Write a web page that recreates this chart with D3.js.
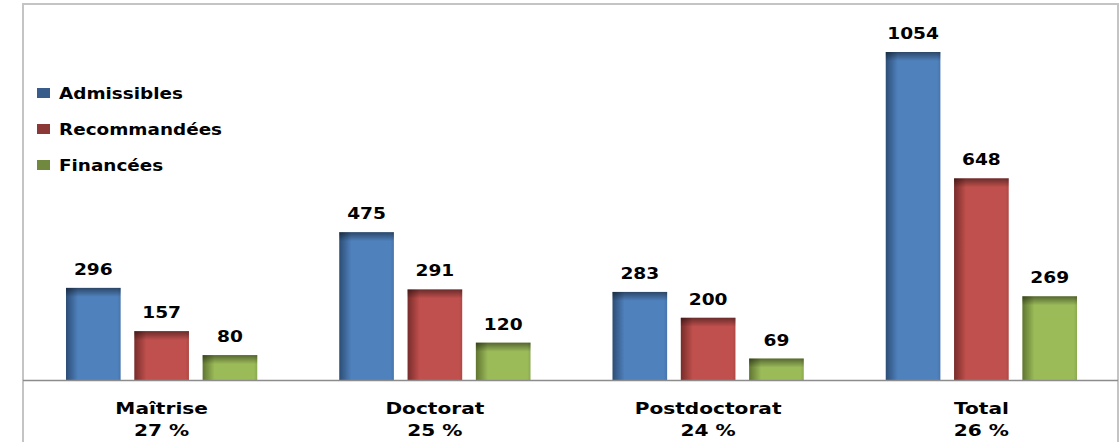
<!DOCTYPE html>
<html>
<head>
<meta charset="utf-8">
<script src="https://cdn.jsdelivr.net/npm/d3@7"></script>
<style>
  body { margin: 0; background: #fff; }
  text { font-family: "DejaVu Sans", sans-serif; font-weight: bold; fill: #000; }
</style>
</head>
<body>
<div id="chart"></div>
<script>
var svgWidth = 1120;
var svgHeight = 442;

// data
var categories = ["Maîtrise", "Doctorat", "Postdoctorat", "Total"];
var percents = ["27 %", "25 %", "24 %", "26 %"];
var seriesNames = ["Admissibles", "Recommandées", "Financées"];
var admissibles = [296, 475, 283, 1054];
var recommandees = [157, 291, 200, 648];
var financees = [80, 120, 69, 269];

var seriesValues = [admissibles, recommandees, financees];
var colors = ["#4f81bd", "#c0504d", "#9bbb59"];
var darkColors = ["#2c4d75", "#772c2a", "#5f7530"];
var legendColors = ["#385d8a", "#8c3836", "#71893f"];

var plot = { left: 25, right: 1118, base: 380 };

var svg = d3.select("#chart")
  .append("svg")
  .attr("width", svgWidth)
  .attr("height", svgHeight);

// text in the picture is stretched sideways, so scale it in x
function label(parent, x, y, size, sx, anchor, str) {
  parent.append("g")
    .attr("transform", `translate(${x},${y}) scale(${sx},1)`)
    .append("text")
    .attr("text-anchor", anchor)
    .style("font-size", size + "px")
    .text(str);
}

var defs = svg.append("defs");
colors.forEach(function(c, i) {
  var g = defs.append("linearGradient").attr("id", "side" + i)
    .attr("x1", 0).attr("x2", 1).attr("y1", 0).attr("y2", 0);
  g.append("stop").attr("offset", "0%").attr("stop-color", darkColors[i]);
  g.append("stop").attr("offset", "22%").attr("stop-color", c);
  g.append("stop").attr("offset", "94%").attr("stop-color", c);
  g.append("stop").attr("offset", "100%").attr("stop-color", d3.color(c).darker(0.3));
});
var topG = defs.append("linearGradient").attr("id", "topShade")
  .attr("x1", 0).attr("x2", 0).attr("y1", 0).attr("y2", 1);
topG.append("stop").attr("offset", "0%").attr("stop-color", "#000").attr("stop-opacity", 0.45);
topG.append("stop").attr("offset", "100%").attr("stop-color", "#000").attr("stop-opacity", 0);

// frame
svg.append("rect")
  .attr("x", 23).attr("y", 4)
  .attr("width", 1095).attr("height", 450)
  .attr("fill", "none")
  .attr("stroke", "#c4c4c4")
  .attr("stroke-width", 2);

var x0 = d3.scaleBand()
  .domain(categories)
  .range([plot.left, plot.right])
  .paddingInner(0.3)
  .paddingOuter(0.15);

var x1 = d3.scaleBand()
  .domain(d3.range(seriesNames.length))
  .range([0, x0.bandwidth()])
  .paddingInner(0.2);

var y = d3.scaleLinear()
  .domain([0, 1054])
  .range([plot.base, 52]);

var groups = svg.selectAll("g.grp")
  .data(categories)
  .enter()
  .append("g")
  .attr("class", "grp")
  .attr("transform", d => `translate(${x0(d)},0)`);

groups.each(function(cat, ci) {
  var g = d3.select(this);
  seriesValues.forEach(function(vals, si) {
    var v = vals[ci];
    var bx = x1(si), bw = x1.bandwidth();
    g.append("rect")
      .attr("x", bx).attr("y", y(v))
      .attr("width", bw).attr("height", y(0) - y(v))
      .attr("fill", "url(#side" + si + ")");
    g.append("rect")
      .attr("x", bx).attr("y", y(v))
      .attr("width", bw).attr("height", Math.min(9, y(0) - y(v)))
      .attr("fill", "url(#topShade)");
    label(g, bx + bw / 2, y(v) - 13, 15.5, 1.2, "middle", v);
  });
  label(g, x0.bandwidth() / 2, 414, 16.5, 1.22, "middle", cat);
  label(g, x0.bandwidth() / 2, 436, 16.5, 1.22, "middle", percents[ci]);
});

// baseline
svg.append("line")
  .attr("x1", 23).attr("x2", 1118)
  .attr("y1", y(0) + 0.5).attr("y2", y(0) + 0.5)
  .attr("stroke", "#8c8c8c")
  .attr("stroke-width", 1.5);

// legend
var legend = svg.selectAll("g.leg")
  .data(seriesNames)
  .enter()
  .append("g")
  .attr("class", "leg")
  .attr("transform", (d, i) => `translate(37, ${88 + i * 36})`);

legend.append("rect")
  .attr("width", 13).attr("height", 10)
  .attr("fill", (d, i) => legendColors[i]);

legend.each(function(d) {
  label(d3.select(this), 22, 11, 16, 1.15, "start", d);
});
</script>
</body>
</html>
